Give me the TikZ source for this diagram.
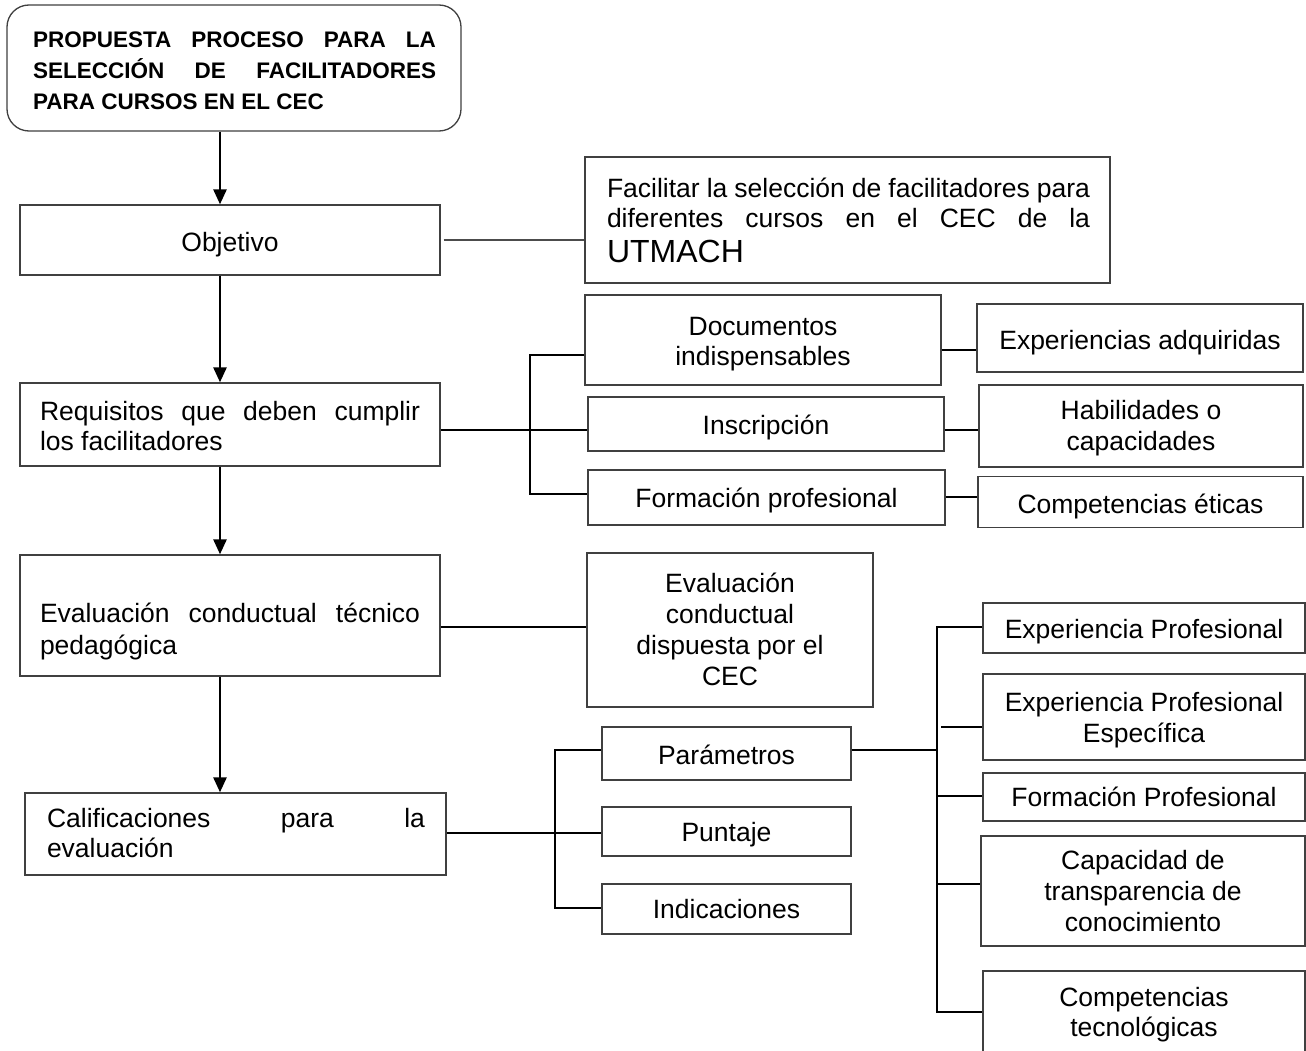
\documentclass[tikz,border=0pt]{standalone}
\usepackage{fontspec}
\setmainfont{Liberation Sans}
\usetikzlibrary{arrows.meta}
\newcommand\jl[2]{\makebox[#1][s]{#2}}
\newcommand\fl{\rule{0pt}{25pt}}
\newcommand\flb{\rule{0pt}{22pt}}
\begin{document}
\begin{tikzpicture}[x=1pt,y=-1pt,
 box/.style={draw=black!75, line width=1.3pt, rectangle, inner sep=0pt},
 txt/.style={inner sep=0pt, anchor=north, yshift=25pt, font=\fontsize{26.5}{31}\selectfont},
 arr/.style={line width=2.6pt, -{Triangle[width=13pt,length=15pt]}},
 conn/.style={line width=2.2pt},
 thinl/.style={line width=1.2pt, draw=black!70}]
\useasboundingbox (0,0) rectangle (1306,1051);
\fill[white] (0,0) rectangle (1306,1051);

% ---------- boxes ----------
\node[box, rounded corners=22pt, minimum width=454pt, minimum height=126pt] (title) at (234,68) {};
\node[box, minimum width=420pt, minimum height=70pt] (obj) at (230,240) {};
\node[box, minimum width=420pt, minimum height=83pt] (req) at (230,424.5) {};
\node[box, minimum width=420pt, minimum height=121pt] (ev) at (230,615.5) {};
\node[box, minimum width=421pt, minimum height=82pt] (cal) at (235.5,834) {};

\node[box, minimum width=525pt, minimum height=126pt] (fac) at (847.5,220) {};
\node[box, minimum width=356pt, minimum height=90pt] (doc) at (763,340) {};
\node[box, minimum width=356pt, minimum height=54pt] (ins) at (766,424) {};
\node[box, minimum width=357pt, minimum height=55pt] (form) at (766.5,497.5) {};
\node[box, minimum width=286pt, minimum height=154pt] (evC) at (730,630) {};
\node[box, minimum width=249pt, minimum height=53pt] (par) at (726.5,753.5) {};
\node[box, minimum width=249pt, minimum height=49pt] (pun) at (726.5,831.5) {};
\node[box, minimum width=249pt, minimum height=50pt] (ind) at (726.5,909) {};

\node[box, minimum width=326pt, minimum height=68pt] (expA) at (1140,338) {};
\node[box, minimum width=324pt, minimum height=82pt] (hab) at (1141,426) {};
\node[box, minimum width=325pt, minimum height=51pt] (comE) at (1140.5,502) {};
\node[box, minimum width=322pt, minimum height=50pt] (eP) at (1144,628) {};
\node[box, minimum width=322pt, minimum height=86pt] (ePE) at (1144,717) {};
\node[box, minimum width=322pt, minimum height=48pt] (fP) at (1144,797) {};
\node[box, minimum width=324pt, minimum height=110pt] (cap) at (1143,891) {};
\node[box, minimum width=322pt, minimum height=89pt] (cT) at (1144,1015.5) {};

% ---------- texts (y = first baseline) ----------
\node[txt, yshift=-3pt, align=left, font=\fontsize{22.5}{31}\selectfont\bfseries] (titleT) at (234.5,47.7)
  {\flb\jl{403pt}{PROPUESTA PROCESO PARA LA}\\ \jl{403pt}{SELECCIÓN DE FACILITADORES}\\ PARA CURSOS EN EL CEC};
\node[txt] (objT) at (230,251) {\fl Objetivo};
\node[txt, align=left, font=\fontsize{26.5}{30}\selectfont] (reqT) at (230,420) {\fl\jl{380pt}{Requisitos que deben cumplir}\\ los facilitadores};
\node[txt, align=left, font=\fontsize{26.5}{32}\selectfont] (evT) at (230,622) {\fl\jl{380pt}{Evaluación conductual técnico}\\ pedagógica};
\node[txt, align=left, font=\fontsize{26.5}{30}\selectfont] (calT) at (236,827) {\fl\jl{378pt}{Calificaciones para la}\\ evaluación};

\node[txt, align=left, font=\fontsize{26.5}{30}\selectfont] (facT) at (848.5,197)
  {\fl\jl{483pt}{Facilitar la selección de facilitadores para}\\ \jl{483pt}{diferentes cursos en el CEC de la}\\[5pt] {\fontsize{32}{31}\selectfont UTMACH}};
\node[txt, align=center, font=\fontsize{26.5}{30}\selectfont] (docT) at (763,335) {\fl Documentos\\ indispensables};
\node[txt] (insT) at (766,434) {\fl Inscripción};
\node[txt] (formT) at (766.5,507) {\fl Formación profesional};
\node[txt, align=center] (evCT) at (730,592) {\fl Evaluación\\ conductual\\ dispuesta por el\\ CEC};
\node[txt] (parT) at (726.5,764) {\fl Parámetros};
\node[txt] (punT) at (726.5,841) {\fl Puntaje};
\node[txt] (indT) at (726.5,918) {\fl Indicaciones};

\node[txt] (expAT) at (1140,349) {\fl Experiencias adquiridas};
\node[txt, align=center] (habT) at (1141,419) {\fl Habilidades o\\ capacidades};
\node[txt] (comET) at (1140.5,513) {\fl Competencias éticas};
\node[txt] (ePT) at (1144,638) {\fl Experiencia Profesional};
\node[txt, align=center] (ePET) at (1144,711) {\fl Experiencia Profesional\\ Específica};
\node[txt] (fPT) at (1144,806) {\fl Formación Profesional};
\node[txt, align=center] (capT) at (1143,869) {\fl Capacidad de\\ transparencia de\\ conocimiento};
\node[txt, align=center, font=\fontsize{26.5}{30}\selectfont] (cTT) at (1144,1006.7) {\fl Competencias\\ tecnológicas};

% ---------- main arrows ----------
\coordinate (ax) at (220,0);
\draw[arr] (title.south -| ax) -- (obj.north -| ax);
\draw[arr] (obj.south -| ax) -- (req.north -| ax);
\draw[arr] (req.south -| ax) -- (ev.north -| ax);
\draw[arr] (ev.south -| ax) -- (cal.north -| ax);

% objetivo
\draw[thinl] ([xshift=3pt]obj.east) -- (obj.east -| fac.west);

% requisitos bus
\coordinate (busA) at (530,430);
\coordinate (busAt) at (530,355);
\coordinate (busAb) at (530,494);
\draw[conn] (req.east |- busA) -- (ins.west |- busA);
\draw[conn] (doc.west |- busAt) -- (busAt) -- (busAb) -- (form.west |- busAb);
\coordinate (lDE) at (960,350);
\coordinate (lIH) at (960,430);
\coordinate (lFC) at (960,497);
\draw[conn] (doc.east |- lDE) -- (expA.west |- lDE);
\draw[conn] (ins.east |- lIH) -- (hab.west |- lIH);
\draw[conn] (form.east |- lFC) -- (comE.west |- lFC);

% evaluacion
\coordinate (lEv) at (500,627);
\draw[conn] (ev.east |- lEv) -- (evC.west |- lEv);

% calificaciones bus
\coordinate (busB) at (555,833);
\coordinate (busBt) at (555,750);
\coordinate (busBb) at (555,908);
\draw[conn] (cal.east |- busB) -- (pun.west |- busB);
\draw[conn] (par.west |- busBt) -- (busBt) -- (busBb) -- (ind.west |- busBb);

% parametros bus
\coordinate (busC) at (937,750);
\coordinate (busCt) at (937,627);
\coordinate (busCb) at (937,1012);
\coordinate (lE2) at (941,727);
\coordinate (lF2) at (937,796);
\coordinate (lC2) at (937,884);
\draw[conn] (par.east |- busC) -- (busC);
\draw[conn] (eP.west |- busCt) -- (busCt) -- (busCb) -- (cT.west |- busCb);
\draw[conn] (lE2) -- (ePE.west |- lE2);
\draw[conn] (lF2) -- (fP.west |- lF2);
\draw[conn] (lC2) -- (cap.west |- lC2);
\end{tikzpicture}
\end{document}
